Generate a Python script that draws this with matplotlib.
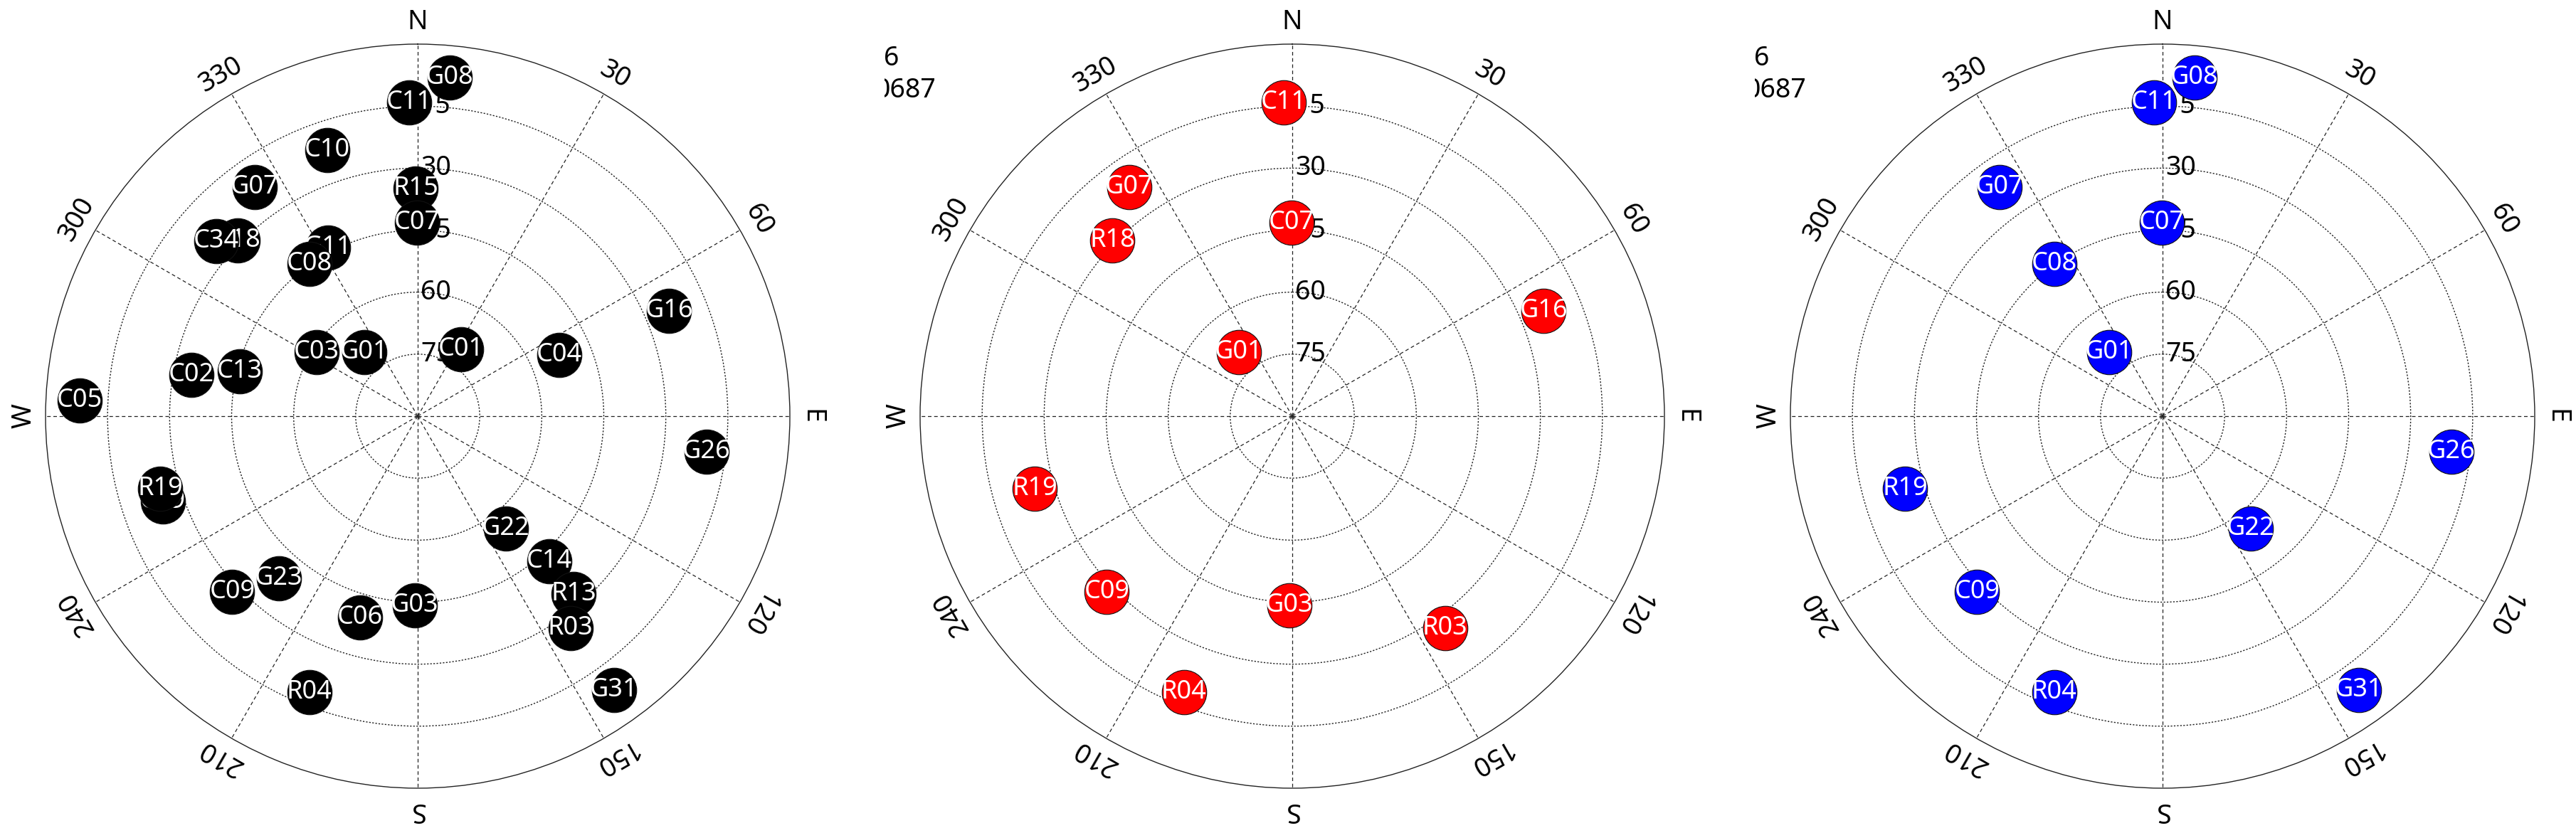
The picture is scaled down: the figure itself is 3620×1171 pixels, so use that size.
import numpy as np
import matplotlib
matplotlib.use("Agg")
from matplotlib import pyplot as plt
from matplotlib.transforms import Bbox, offset_copy

plt.rcParams['font.family'] = ['Noto Sans', 'DejaVu Sans']

# satellites: name, azimuth (deg, clockwise from N), elevation (deg)
sat_names = ['G08', 'C11', 'C10', 'G07', 'R15', 'C07', 'R18', 'C34', 'G11', 'C08',
             'G16', 'C03', 'G01', 'C01', 'C04', 'C02', 'C13', 'C05', 'G26', 'C19',
             'R19', 'G22', 'C14', 'R13', 'R03', 'G31', 'C09', 'G23', 'C06', 'G03', 'R04']
sat_az = [5.4, 358.4, 341.2, 324.5, 359.5, 359.7, 314.3, 311.0, 331.9, 324.7,
          67.3, 302.3, 320.0, 33.0, 66.5, 280.3, 284.1, 272.7, 97.0, 251.5,
          254.3, 141.9, 137.8, 138.7, 144.2, 144.4, 226.5, 220.6, 195.9, 180.9, 201.4]
sat_el = [7.7, 14.0, 22.1, 22.0, 34.9, 43.2, 29.2, 25.4, 43.8, 44.8,
          24.1, 61.0, 69.8, 70.7, 52.7, 34.3, 45.6, 8.1, 19.6, 25.0,
          25.3, 55.5, 42.6, 32.8, 26.8, 8.5, 28.2, 38.4, 39.3, 44.2, 18.2]

panel_sats = [
    sat_names,
    ['C11', 'G07', 'R18', 'C07', 'G16', 'G01', 'R19', 'C09', 'G03', 'R03', 'R04'],
    ['G08', 'C11', 'G07', 'C07', 'C08', 'G01', 'G26', 'R19', 'G22', 'C09', 'R04', 'G31'],
]
panel_colors = ['black', '#ff0000', '#0000ff']

elev_ticks = [15, 30, 45, 60, 75]
az_ticks = [0, 30, 60, 90, 120, 150, 180, 210, 240, 270, 300, 330]
az_labels = ['N', '30', '60', 'E', '120', '150', 'S', '210', '240', 'W', '300', '330']

W, H = 3620, 1171
fig = plt.figure(figsize=(W / 100, H / 100), dpi=100)

centers_x = [587, 1816, 3039]
cy, R = 585, 523

for k in range(3):
    cx = centers_x[k]
    ax = fig.add_axes([(cx - R) / W, (H - cy - R) / H, 2 * R / W, 2 * R / H],
                      projection='polar')
    ax.set_theta_zero_location('N')
    ax.set_theta_direction(-1)
    ax.set_rlim(0, 90)
    ax.set_yticks([90 - e for e in elev_ticks])
    ax.set_yticklabels([])
    ax.set_xticks(np.deg2rad(az_ticks))
    ax.set_xticklabels([])
    ax.tick_params(length=0)
    ax.xaxis.grid(True, color='#222222', lw=0.9, linestyle=(0, (4, 3)))
    ax.yaxis.grid(True, color='#222222', lw=1.0, linestyle=(0, (1.6, 1.6)))
    ax.spines['polar'].set_linewidth(1.0)
    ax.spines['polar'].set_color('#222222')

    # azimuth labels, tangential
    for a, lab in zip(az_ticks, az_labels):
        ax.text(np.deg2rad(a), 95.3, lab, rotation=-a, rotation_mode='anchor',
                ha='center', va='center', fontsize=27, clip_on=False, zorder=2.6)

    # elevation labels just right of N line
    tr = offset_copy(ax.transData, fig=fig, x=4, y=0, units='dots')
    for e in elev_ticks:
        ax.text(0, 90 - e, str(e), ha='left', va='center', fontsize=27,
                transform=tr, zorder=2.6)

    col = panel_colors[k]
    z = 3
    for name, az, el in zip(sat_names, sat_az, sat_el):
        if name not in panel_sats[k]:
            continue
        th = np.deg2rad(az)
        ax.plot(th, 90 - el, 'o', ms=45, mfc=col, mec='#111111', mew=0.8,
                zorder=z, clip_on=False)
        ax.text(th, 90 - el, name, color='white', ha='center', va='center',
                fontsize=26, zorder=z + 1, clip_on=False)
        z += 2

    # partly hidden annotation at the top left of panels 2 and 3
    if k > 0:
        x_clip = cx - 573
        clip = Bbox([[x_clip, 0], [W, H]])
        t1 = fig.text((x_clip - 1) / W, 1 - 82 / H, '6', fontsize=27,
                      ha='left', va='center')
        t2 = fig.text((cx - 501) / W, 1 - 127 / H, '0687', fontsize=27,
                      ha='right', va='center')
        for t in (t1, t2):
            t.set_clip_box(clip)
            t.set_clip_on(True)

fig.savefig('out.png', dpi=100)
